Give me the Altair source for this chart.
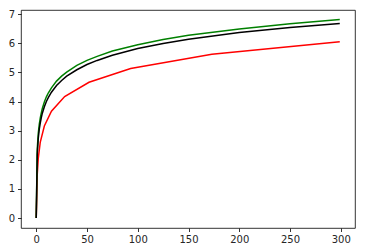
import altair as alt
import pandas as pd

x_smooth = [0, 1, 2, 3, 4, 5, 6, 8, 10, 12, 15, 20, 25, 30, 40, 50, 60, 75, 100, 125, 150, 200, 250, 299]
black_vals = [0, 2.18, 2.73, 3.05, 3.27, 3.45, 3.60, 3.82, 4.00, 4.14, 4.32, 4.55, 4.72, 4.87, 5.09, 5.27, 5.41, 5.59, 5.82, 5.99, 6.14, 6.37, 6.54, 6.68]
green_vals = [0, 2.36, 2.90, 3.22, 3.44, 3.61, 3.76, 3.98, 4.16, 4.30, 4.47, 4.70, 4.87, 5.01, 5.24, 5.41, 5.55, 5.73, 5.95, 6.13, 6.27, 6.49, 6.67, 6.81]
x_red = [0, 1, 2, 4, 8, 15, 28, 52, 93, 173, 299]
red_vals = [0, 1.5, 2.05, 2.61, 3.16, 3.67, 4.17, 4.66, 5.13, 5.62, 6.05]

x_ticks = [0, 50, 100, 150, 200, 250, 300]
y_ticks = [0, 1, 2, 3, 4, 5, 6, 7]

df_black = pd.DataFrame({"x": x_smooth, "y": black_vals})
df_green = pd.DataFrame({"x": x_smooth, "y": green_vals})
df_red = pd.DataFrame({"x": x_red, "y": red_vals})

xs = alt.Scale(domain=[-15, 314], nice=False, zero=False)
ys = alt.Scale(domain=[-0.34, 7.14], nice=False, zero=False)

axis_common = dict(domain=False, grid=False, ticks=True, tickSize=3.5, tickColor="#000",
                   tickWidth=0.8, labelFont="DejaVu Sans", labelFontSize=10,
                   labelColor="#262626", labelPadding=3, title=None)

x_enc = alt.X("x:Q", scale=xs, axis=alt.Axis(values=x_ticks, **axis_common))
y_enc = alt.Y("y:Q", scale=ys, axis=alt.Axis(values=y_ticks, **axis_common))

def line(df, color):
    return alt.Chart(df).mark_line(color=color, strokeWidth=1.5).encode(x=x_enc, y=y_enc)

chart = alt.layer(
    line(df_red, "#ff0000"),
    line(df_green, "#008000"),
    line(df_black, "#000000"),
).properties(
    width=334, height=218,
    autosize=alt.AutoSizeParams(type="none"),
    padding={"left": 13, "top": 2, "right": 3, "bottom": 16},
).configure_view(stroke="#000", strokeWidth=0.8)

chart.save("out.html", embed_options={"renderer": "svg", "actions": False})
